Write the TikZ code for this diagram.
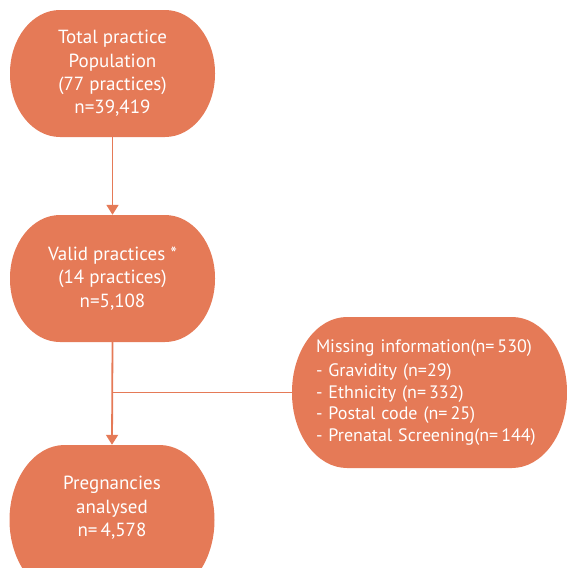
\documentclass[tikz,border=0pt]{standalone}
\usepackage{fontspec}
\setmainfont{PT Sans}
\usetikzlibrary{arrows.meta}
\definecolor{boxorange}{HTML}{E57A57}
\newcommand\ellfill[2]{%
  \fill[boxorange]
    ([xshift=#1]path picture bounding box.north west)
    -- ([xshift=-#1]path picture bounding box.north east)
    .. controls ([xshift=-0.448*#1]path picture bounding box.north east)
       and ([yshift=-0.448*#2]path picture bounding box.north east)
    .. ([yshift=-#2]path picture bounding box.north east)
    -- ([yshift=#2]path picture bounding box.south east)
    .. controls ([yshift=0.448*#2]path picture bounding box.south east)
       and ([xshift=-0.448*#1]path picture bounding box.south east)
    .. ([xshift=-#1]path picture bounding box.south east)
    -- ([xshift=#1]path picture bounding box.south west)
    .. controls ([xshift=0.448*#1]path picture bounding box.south west)
       and ([yshift=0.448*#2]path picture bounding box.south west)
    .. ([yshift=#2]path picture bounding box.south west)
    -- ([yshift=-#2]path picture bounding box.north west)
    .. controls ([yshift=-0.448*#2]path picture bounding box.north west)
       and ([xshift=0.448*#1]path picture bounding box.north west)
    .. cycle;}
\tikzset{
  flowbox/.style 2 args={draw=none, fill=none, inner sep=0pt,
    path picture={\ellfill{#1}{#2}},
    text=white, font=\fontsize{19}{23.4}\selectfont, align=center},
  link/.style={draw=boxorange, line width=1.8pt},
  arrowlink/.style={link, -{Triangle[length=10pt,width=12pt]}}
}
\begin{document}
\begin{tikzpicture}[x=1pt,y=-1pt]
\useasboundingbox (0,0) rectangle (567,568);
\clip (0,0) rectangle (567,568);
\node[flowbox={50pt}{63pt}, minimum width=205pt, minimum height=127pt] (total) at (112.5,73.5)
  {Total practice\\Population\\(77 practices)\\n=39,419};
\node[flowbox={50pt}{63pt}, minimum width=205pt, minimum height=127pt] (valid) at (112.5,278.5)
  {Valid practices *\\(14 practices)\\n=5,108};
\node[flowbox={55pt}{75pt}, minimum width=205pt, minimum height=150pt] (preg) at (112,520)
  {\raisebox{7pt}[0pt][0pt]{\begin{tabular}{@{}c@{}}Pregnancies\\analysed\\n=\,4,578\end{tabular}}};
\node[flowbox={55pt}{75pt}, minimum width=275pt, minimum height=151pt,
  inner xsep=24pt, text width=227pt, align=left,
  font=\fontsize{18}{21.8}\selectfont] (miss) at (429.5,392.5)
  {\vspace*{2.5pt}Missing information(n=\,530)\\- Gravidity (n=29)\\- Ethnicity (n=\,332)\\- Postal code (n=\,25)\\- Prenatal Screening(n=\,144)};
\draw[arrowlink] (total.south) -- (valid.north);
\draw[arrowlink] (valid.south) -- (preg.north);
\coordinate (junc) at (valid.south |- miss.west);
\draw[link] (junc) -- (miss.west);
\end{tikzpicture}
\end{document}
